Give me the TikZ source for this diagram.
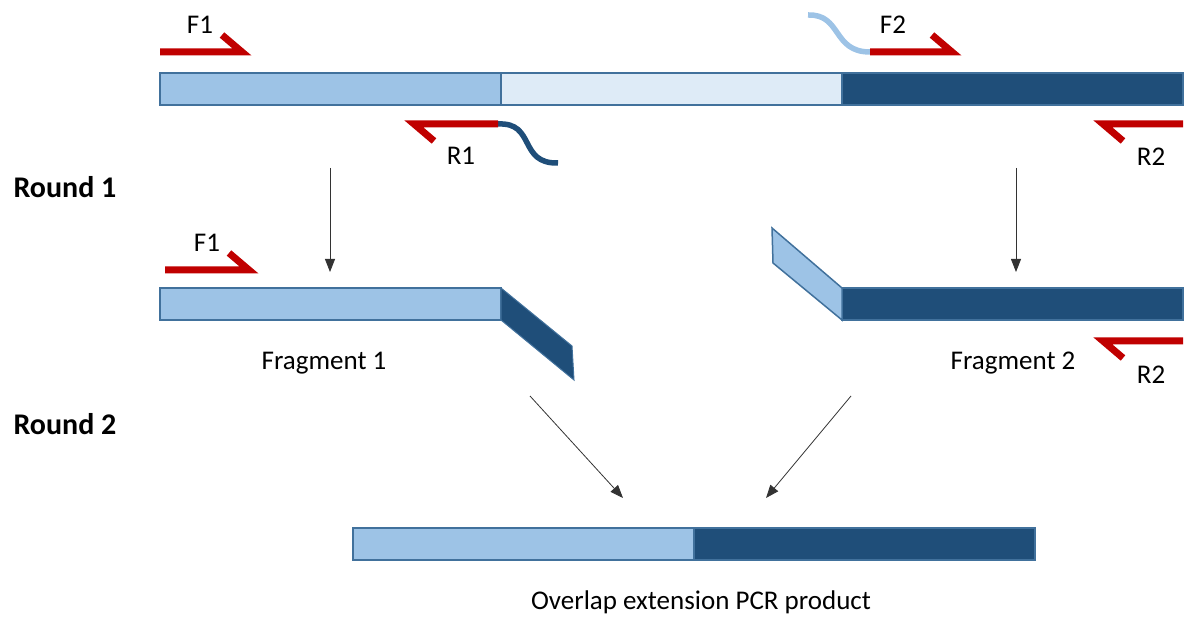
\documentclass[tikz,border=0pt]{standalone}
\usepackage{fontspec}
\setmainfont{Carlito}
\usetikzlibrary{arrows.meta}
\definecolor{lb}{HTML}{9DC3E6}
\definecolor{vlb}{HTML}{DEEBF7}
\definecolor{db}{HTML}{1F4E79}
\definecolor{bd}{HTML}{41719C}
\definecolor{pr}{HTML}{C00000}
\begin{document}
\begin{tikzpicture}[x=1pt,y=-1pt,
  seg/.style={draw=bd,line width=1.5pt,minimum height=32pt,inner sep=0pt,outer sep=0pt,anchor=north west},
  primer/.style={draw=pr,line width=7pt,line join=miter},
  tail/.style={line width=5.5pt},
  arr/.style={draw=black!80,line width=0.8pt,-{Triangle[length=13pt,width=10pt]}},
  lbl/.style={font=\fontsize{27}{30}\selectfont,inner sep=0pt},
  rnd/.style={font=\fontsize{30}{34}\selectfont\bfseries,inner sep=0pt}
]
\useasboundingbox (0,0) rectangle (1192,617);
% top template
\node[seg,fill=lb,minimum width=341pt] (t1) at (160,73) {};
\node[seg,fill=vlb,minimum width=341pt] (t2) at (501,73) {};
\node[seg,fill=db,minimum width=341pt] (t3) at (842,73) {};
% F1 top
\coordinate (f1a) at (160,52); \coordinate (f1b) at (242,52);
\draw[primer] (f1a) -- (f1b) -- ++(-20,-17);
\node[lbl] (F1t) at (200,25) {F1};
% F2 top
\coordinate (f2t) at (808,15); \coordinate (f2a) at (870,52); \coordinate (f2b) at (952,52);
\draw[tail,lb] (f2t) .. controls (842,14) and (832,52) .. (f2a);
\draw[primer] (f2a) -- (f2b) -- ++(-20,-17);
\node[lbl] (F2t) at (893,25) {F2};
% R1
\coordinate (r1a) at (498,124); \coordinate (r1b) at (414,124); \coordinate (r1t) at (558,163);
\draw[tail,db] (r1a) .. controls (536,122) and (518,164) .. (r1t);
\draw[primer] (r1a) -- (r1b) -- ++(20,17);
\node[lbl] (R1t) at (461,156) {R1};
% R2 top
\coordinate (r2a) at (1183,124); \coordinate (r2b) at (1103,124);
\draw[primer] (r2a) -- (r2b) -- ++(20,17);
\node[lbl] (R2t) at (1151,157) {R2};
% round labels
\node[rnd] (rd1) at (65,187) {Round 1};
\node[rnd] (rd2) at (65,424) {Round 2};
% arrows round 1
\coordinate (a1s) at (330,168); \coordinate (a1e) at (330,272);
\coordinate (a2s) at (1016,168); \coordinate (a2e) at (1016,272);
\draw[arr] (a1s) -- (a1e);
\draw[arr] (a2s) -- (a2e);
% fragment 1
\node[seg,fill=lb,minimum width=341pt] (fr1) at (160,288) {};
\draw[draw=bd,line width=1pt,fill=db] (fr1.north east) -- (572,346) -- (574,380) -- (fr1.south east) -- cycle;
\coordinate (g1a) at (165,270); \coordinate (g1b) at (249,270);
\draw[primer] (g1a) -- (g1b) -- ++(-20,-17);
\node[lbl] (F1b) at (207,243) {F1};
\node[lbl] (frl1) at (324,363) {Fragment 1};
% fragment 2
\node[seg,fill=db,minimum width=341pt] (fr2) at (842,288) {};
\draw[draw=bd,line width=1.5pt,fill=lb] (fr2.north west) -- (772,228) -- (773,263) -- (fr2.south west) -- cycle;
\coordinate (g2a) at (1183,341); \coordinate (g2b) at (1103,341);
\draw[primer] (g2a) -- (g2b) -- ++(20,17);
\node[lbl] (R2b) at (1151,375) {R2};
\node[lbl] (frl2) at (1013,363) {Fragment 2};
% round 2 arrows
\coordinate (b1s) at (530,396); \coordinate (b1e) at (623,498);
\coordinate (b2s) at (851,396); \coordinate (b2e) at (766,498);
\draw[arr] (b1s) -- (b1e);
\draw[arr] (b2s) -- (b2e);
% product
\node[seg,fill=lb,minimum width=341pt] (p1) at (353,528) {};
\node[seg,fill=db,minimum width=341pt] (p2) at (694,528) {};
\node[lbl] (pl) at (701,602) {Overlap extension PCR product};
\end{tikzpicture}
\end{document}
